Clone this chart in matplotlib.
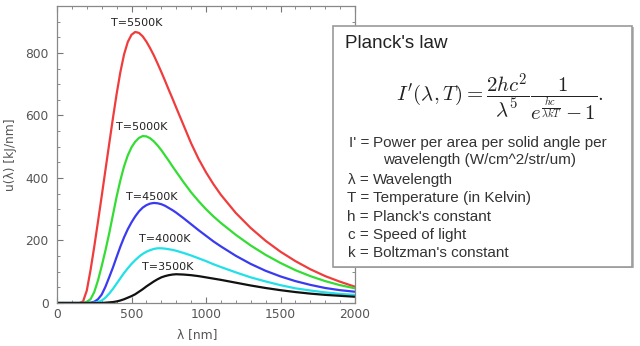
import matplotlib
matplotlib.use("Agg")
import matplotlib.pyplot as plt
from matplotlib.patches import Rectangle
from matplotlib.ticker import MultipleLocator

plt.rcParams['mathtext.fontset'] = 'cm'

wavelength = [0, 100, 150, 175, 200, 225, 250, 275, 300, 325, 350, 375, 400, 425, 450,
              475, 500, 525, 550, 575, 600, 625, 650, 675, 700, 725, 750, 775, 800,
              850, 900, 950, 1000, 1050, 1100, 1200, 1300, 1400, 1500, 1600, 1700, 1800,
              1900, 2000]

u_5500 = [0, 0, 0, 5, 40, 105, 180, 260, 342, 425, 508, 590, 668, 738, 795,
          835, 858, 867, 864, 853, 836, 815, 792, 766, 739, 711, 682, 654, 625,
          568, 511, 461, 418, 380, 346, 288, 240, 199, 164, 134, 108, 86,
          68, 52]
u_5000 = [0, 0, 0, 0, 4, 12, 35, 72, 118, 168, 222, 281, 340, 392, 437,
          472, 498, 516, 528, 534, 533, 527, 517, 504, 489, 472, 455, 437, 420,
          386, 354, 326, 300, 277, 256, 218, 184, 154, 128, 105, 86, 70,
          57, 47]
u_4500 = [0, 0, 0, 0, 0, 1, 4, 12, 27, 52, 82, 113, 147, 180, 210,
          236, 258, 277, 293, 305, 313, 318, 320, 319, 316, 311, 304, 297, 289,
          271, 252, 233, 215, 197, 181, 151, 125, 103, 85, 70, 58, 48,
          41, 36]
u_4000 = [0, 0, 0, 0, 0, 0, 1, 3, 8, 17, 30, 45, 62, 79, 96,
          111, 125, 137, 148, 157, 164, 169, 173, 175, 175, 174, 172, 170, 167,
          160, 152, 143, 134, 124, 115, 98, 82, 69, 57, 47, 40, 34,
          29, 26]
u_3500 = [0, 0, 0, 0, 0, 0, 0, 0, 0, 1, 2, 3, 5, 8, 12,
          17, 22, 28, 36, 44, 53, 61, 69, 76, 82, 86, 89, 91, 92,
          91, 89, 86, 82, 78, 74, 65, 56, 48, 41, 35, 30, 26,
          23, 20]

series = [u_5500, u_5000, u_4500, u_4000, u_3500]
labels = ["T=5500K", "T=5000K", "T=4500K", "T=4000K", "T=3500K"]
label_x = [536, 570, 637, 724, 744]
label_y = [896, 563, 339, 205, 115]
colors = ["#f03c3c", "#33dd33", "#3a3af0", "#20e0e8", "#111111"]

fig = plt.figure(figsize=(6.4, 3.46), dpi=100)
fig.patch.set_facecolor("white")
ax = fig.add_axes([57/640, 1-303/346, (355-57)/640, (303-6)/346])

for vals, c in zip(series, colors):
    ax.plot(wavelength, vals, color=c, lw=1.6, solid_joinstyle='round')
for t, x, y in zip(labels, label_x, label_y):
    ax.text(x, y, t, ha="center", va="center", fontsize=8, color="#222222")

ax.set_xlim(0, 2000)
ax.set_ylim(0, 950)
ax.xaxis.set_major_locator(MultipleLocator(500))
ax.xaxis.set_minor_locator(MultipleLocator(100))
ax.yaxis.set_major_locator(MultipleLocator(200))
ax.yaxis.set_minor_locator(MultipleLocator(50))
ax.tick_params(which="both", direction="in", top=True, right=True,
               colors="#777777", labelcolor="#555555", labelsize=8.8)
ax.tick_params(which="major", length=4, width=0.8)
ax.tick_params(which="minor", length=2.5, width=0.6)
ax.tick_params(axis="y", pad=6)
for s in ax.spines.values():
    s.set_color("#888888")
    s.set_linewidth(0.9)
ax.set_xlabel("\u03bb [nm]", fontsize=8.8, color="#555555")
ax.xaxis.set_label_coords(0.47, -0.085)
ax.set_ylabel("u(\u03bb) [kJ/nm]", fontsize=8.8, color="#555555", labelpad=6)

# legend box
fig.patches.append(Rectangle((333/640 + 1.5/640, 1-268.2/346), 299/640, (266.7-25.7)/346,
                             transform=fig.transFigure, facecolor="#bbbbbb",
                             edgecolor="none", zorder=4))
fig.patches.append(Rectangle((333/640, 1-266.7/346), 299/640, (266.7-25.7)/346,
                             transform=fig.transFigure, facecolor="white",
                             edgecolor="#999999", lw=1.2, zorder=5))

fig.text(345/640, 1-44/346, "Planck's law", fontsize=13.5, family="Liberation Sans",
         color="#222222", va="center", ha="left", zorder=6)
fig.text(500/640, 1-97/346,
         r"$I'(\lambda,T) = \dfrac{2hc^2}{\lambda^5}\dfrac{1}{e^{\frac{hc}{\lambda kT}}-1}.$",
         fontsize=15, color="#222222", va="center", ha="center", zorder=6)

rows = [("I' =", "Power per area per solid angle per", 345, 143.3),
        ("", "wavelength (W/cm^2/str/um)", 383, 160),
        ("\u03bb =", "Wavelength", 373, 180),
        ("T =", "Temperature (in Kelvin)", 373, 198.3),
        ("h =", "Planck's constant", 373, 216.7),
        ("c =", "Speed of light", 373, 235),
        ("k =", "Boltzman's constant", 373, 253.3)]
for sym, txt, x, y in rows:
    if sym:
        fig.text(369/640, 1-y/346, sym, fontsize=11, family="Liberation Sans",
                 color="#333333", va="center", ha="right", zorder=6)
    fig.text((x if not sym else 373)/640, 1-y/346, txt, fontsize=11,
             family="Liberation Sans", color="#333333", va="center", ha="left", zorder=6)

fig.savefig("out.png", dpi=100)
